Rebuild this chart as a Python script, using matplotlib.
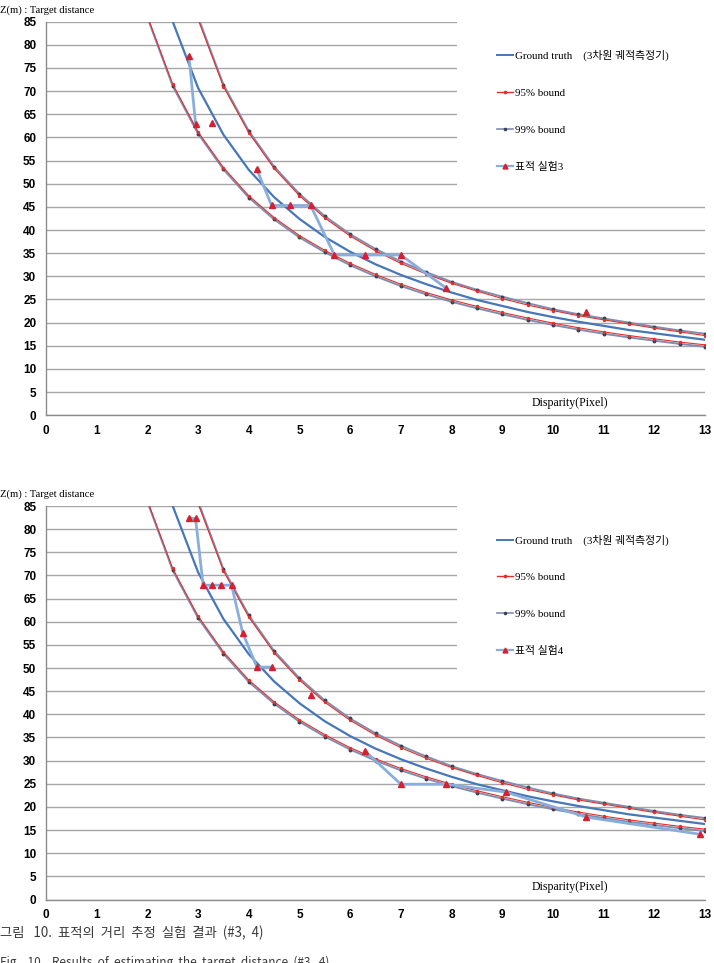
import matplotlib
matplotlib.use("Agg")
import matplotlib.pyplot as plt
import numpy as np
from matplotlib.lines import Line2D
from matplotlib.patches import Rectangle

# ---------------- data ----------------
d_gt = [2.5, 3, 3.5, 4, 4.5, 5, 5.5, 6, 6.5, 7, 7.5, 8, 8.5, 9, 9.5, 10, 10.5, 11, 11.5, 12, 12.5, 13]
z_gt = [85.0, 70.7, 60.6, 53.0, 47.1, 42.4, 38.5, 35.3, 32.6, 30.3, 28.3, 26.5, 24.9, 23.6, 22.3, 21.2,
        20.2, 19.3, 18.4, 17.7, 17.0, 16.3]

d_up = [3, 3.5, 4, 4.5, 5, 5.5, 6, 6.5, 7, 7.5, 8, 8.5, 9, 9.5, 10, 10.5, 11, 11.5, 12, 12.5, 13]
z_up95 = [85.5, 71.0, 61.0, 53.3, 47.4, 42.6, 38.7, 35.5, 32.8, 30.5, 28.5, 26.8, 25.2, 23.8, 22.6, 21.5,
          20.6, 19.7, 18.8, 18.0, 17.2]
z_up99 = [86.0, 71.4, 61.4, 53.7, 47.8, 43.0, 39.1, 35.9, 33.2, 30.9, 28.8, 27.1, 25.6, 24.2, 22.9, 21.8,
          20.9, 20.0, 19.1, 18.3, 17.6]

d_lo = [2, 2.5, 3, 3.5, 4, 4.5, 5, 5.5, 6, 6.5, 7, 7.5, 8, 8.5, 9, 9.5, 10, 10.5, 11, 11.5, 12, 12.5, 13]
z_lo95 = [86.2, 71.5, 61.2, 53.5, 47.4, 42.7, 38.8, 35.6, 32.8, 30.4, 28.3, 26.5, 24.9, 23.5, 22.2, 21.0,
          19.9, 18.9, 18.0, 17.2, 16.5, 15.8, 15.2]
z_lo99 = [85.9, 71.1, 60.8, 53.1, 47.0, 42.3, 38.4, 35.2, 32.4, 30.0, 27.9, 26.1, 24.5, 23.1, 21.8, 20.6,
          19.5, 18.5, 17.6, 16.8, 16.1, 15.4, 14.8]

# experiment series (NaN = break in the line)
d_exp3 = [2.82, 2.95, np.nan, 3.27, np.nan, 4.16, 4.45, 4.81, 5.22, 5.69, 6.29, 7.00, 7.90, np.nan, 10.66]
z_exp3 = [77.6, 63.0, np.nan, 63.2, np.nan, 53.1, 45.3, 45.3, 45.3, 34.6, 34.6, 34.6, 27.4, np.nan, 22.4]

d_exp4 = [2.82, 2.95, 3.10, 3.27, 3.45, 3.66, 3.88, 4.16, 4.45, np.nan, 5.22, np.nan,
          6.29, 7.00, 7.90, 9.07, 10.66, 12.90]
z_exp4 = [82.3, 82.3, 67.9, 67.9, 67.9, 67.9, 57.6, 50.2, 50.2, np.nan, 44.2, np.nan,
          32.1, 24.9, 24.9, 23.2, 17.8, 14.1]

x_ticks = list(range(0, 14))
y_ticks = list(range(0, 90, 5))

y_label = "Z(m) : Target distance"
x_label = "Disparity(Pixel)"
legend_labels_common = ["Ground truth    (3차원 궤적측정기)", "95% bound", "99% bound"]
exp_labels = ["표적 실험3", "표적 실험4"]
caption1 = "그림   10.  표적의  거리  추정  실험  결과  (#3,  4)"
caption2 = "Fig.   10.   Results  of  estimating  the  target  distance  (#3,  4)"

# ---------------- style ----------------
C_GT = "#4677b8"
C_95 = "#e0302e"
C_99 = "#7f8db0"
C_EXP = "#8aaedc"
C_TRI = "#d42030"
C_GRID = "#a6a6a6"

serif = ["Liberation Serif", "Noto Sans CJK KR"]
tickfont = ["Liberation Sans Narrow", "Liberation Sans"]

W, H = 714, 963
fig = plt.figure(figsize=(W / 100, H / 100), dpi=100)

def px_axes(left, top, right, bottom):
    return fig.add_axes([left / W, 1 - bottom / H, (right - left) / W, (bottom - top) / H])

def draw(ax, d_exp, z_exp, exp_label, top_px):
    ax.set_xlim(0, 13)
    ax.set_ylim(0, 85)
    for s in ["top", "right"]:
        ax.spines[s].set_visible(False)
    for s in ["left", "bottom"]:
        ax.spines[s].set_color("#8c8c8c")
        ax.spines[s].set_linewidth(1.0)
    ax.set_xticks(x_ticks)
    ax.set_yticks(y_ticks)
    ax.tick_params(length=0, pad=7)
    for lab in ax.get_xticklabels() + ax.get_yticklabels():
        lab.set_family(tickfont)
        lab.set_fontweight("bold")
        lab.set_fontsize(8.5)
    ax.yaxis.grid(True, color=C_GRID, linewidth=1.0, zorder=0.5)
    ax.set_axisbelow(True)
    # legend background box covering the grid
    ax.add_patch(Rectangle((0.6237, 0.559), 0.4, 0.46, transform=ax.transAxes,
                           facecolor="white", edgecolor="none", zorder=1, clip_on=False))

    ax.plot(d_gt, z_gt, color=C_GT, lw=1.6, zorder=3)
    ax.plot(d_up, z_up95, color=C_95, lw=0.8, marker="o", ms=1.4, mec=C_95, mfc=C_95, zorder=4)
    ax.plot(d_lo, z_lo95, color=C_95, lw=0.8, marker="o", ms=1.4, mec=C_95, mfc=C_95, zorder=4)
    ax.plot(d_up, z_up99, color=C_99, lw=1.4, marker="o", ms=1.8, mec="#3c4256", mfc="#3c4256", zorder=3.5)
    ax.plot(d_lo, z_lo99, color=C_99, lw=1.4, marker="o", ms=1.8, mec="#3c4256", mfc="#3c4256", zorder=3.5)
    ax.plot(d_exp, z_exp, color=C_EXP, lw=2.0, zorder=5)
    ax.plot(d_exp, z_exp, ls="none", marker="^", ms=5, mfc=C_TRI, mec=C_TRI, zorder=6)

    handles = [
        Line2D([], [], color=C_GT, lw=1.4),
        Line2D([], [], color=C_95, lw=1.0, marker="o", ms=1.6),
        Line2D([], [], color=C_99, lw=1.2, marker="o", ms=1.6, mfc="#3c4256", mec="#3c4256"),
        Line2D([], [], color=C_EXP, lw=1.6, marker="^", ms=3.5, mfc=C_TRI, mec=C_TRI),
    ]
    leg = ax.legend(handles, legend_labels_common + [exp_label], loc="upper left",
                    bbox_to_anchor=((497 - 46) / 659, 1 - (50 - 21.7) / 393.5),
                    frameon=False, handlelength=1.5, handletextpad=0.15,
                    labelspacing=2.5, borderaxespad=0, borderpad=0,
                    prop={"family": serif, "size": 7.8})
    leg.set_zorder(10)

    fig.text(0.0, 1 - (top_px - 11.7) / H, y_label, fontsize=7.7, family=serif,
             ha="left", va="center")
    ax.text(0.795, 0.017, x_label, transform=ax.transAxes, fontsize=8.6, family=serif,
            ha="center", va="bottom")

ax1 = px_axes(46, 21.7, 705, 415.2)
draw(ax1, d_exp3, z_exp3, exp_labels[0], 21.7)
ax2 = px_axes(46, 506, 705, 899.5)
draw(ax2, d_exp4, z_exp4, exp_labels[1], 506)

cap_font = ["Noto Sans CJK KR", "DejaVu Sans"]
fig.text(0.0, 1 - 933 / H, caption1, fontsize=9.6, family=cap_font,
         color="#3a3a3a", ha="left", va="center")
fig.text(0.0, 1 - 962 / H, caption2, fontsize=8.5, family=cap_font,
         color="#3a3a3a", ha="left", va="center")

fig.savefig("out.png", dpi=100)
